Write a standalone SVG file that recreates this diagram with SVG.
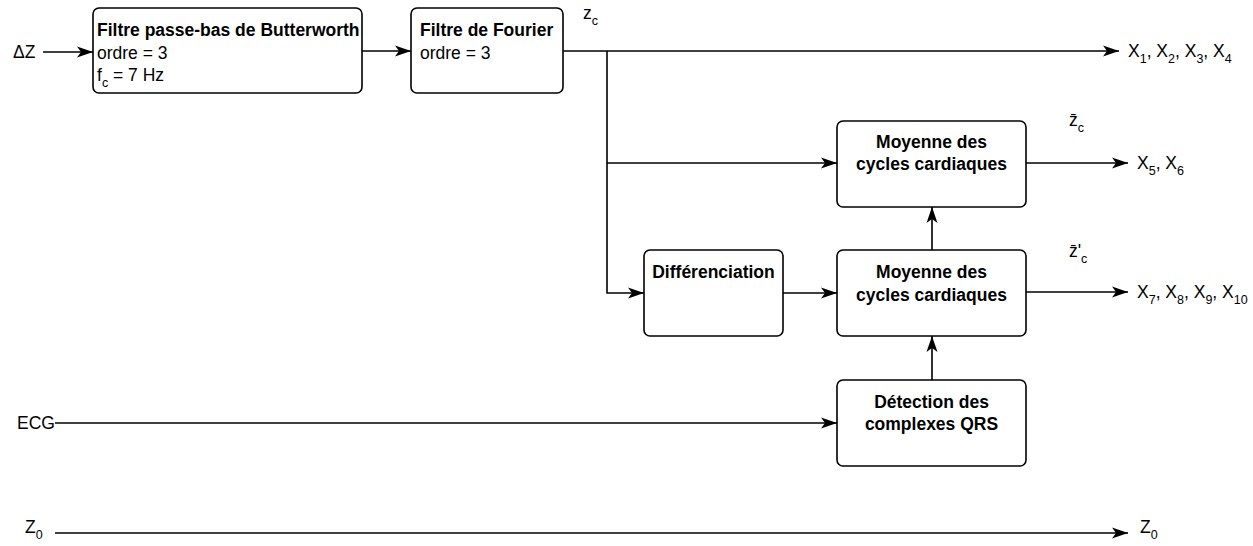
<svg xmlns="http://www.w3.org/2000/svg" width="1253" height="546" viewBox="0 0 1253 546">
<defs>
<style>
text{font-family:"Liberation Sans",Arial,sans-serif;font-size:17.5px;fill:#000}
.b{font-weight:bold}
.m{text-anchor:middle}
.s{font-size:12.5px}
rect.n{fill:#fff;stroke:#000;stroke-width:1.6}
.c path{fill:none;stroke:#000;stroke-width:1.6}
</style>
<marker id="a" viewBox="0 0 16 12" refX="16" refY="6" markerWidth="16" markerHeight="12" markerUnits="userSpaceOnUse" orient="auto">
<path d="M0,0.5 L16,6 L0,11.5 L4,6 Z" fill="#000"/>
</marker>
</defs>
<rect width="1253" height="546" fill="#fff"/>
<g class="c" id="connectors">
<path d="M43,52 L93,52" marker-end="url(#a)"/>
<path d="M362,51 L411,51" marker-end="url(#a)"/>
<path d="M563,51 L1119,51" marker-end="url(#a)"/>
<path d="M607,51 L607,293 L644,293" marker-end="url(#a)"/>
<path d="M607,163 L837,163" marker-end="url(#a)"/>
<path d="M783,293 L837,293" marker-end="url(#a)"/>
<path d="M932,250 L932,207" marker-end="url(#a)"/>
<path d="M932,380 L932,336" marker-end="url(#a)"/>
<path d="M55,423 L837,423" marker-end="url(#a)"/>
<path d="M1026,163 L1128,163" marker-end="url(#a)"/>
<path d="M1026,292 L1128,292" marker-end="url(#a)"/>
<path d="M55,533 L1128,533" marker-end="url(#a)"/>
</g>
<g id="butterworth">
<rect class="n" x="93" y="8" width="269" height="85" rx="6"/>
<text class="b" x="97" y="36">Filtre passe-bas de Butterworth</text>
<text x="97" y="59">ordre = 3</text>
<text x="97" y="81">f<tspan class="s" dy="6">c</tspan><tspan dy="-6"> = 7 Hz</tspan></text>
</g>
<g id="fourier">
<rect class="n" x="411" y="8" width="152" height="85" rx="6"/>
<text class="b" x="420" y="36">Filtre de Fourier</text>
<text x="420" y="59">ordre = 3</text>
</g>
<g id="moyenne1">
<rect class="n" x="837" y="121" width="189" height="86" rx="6"/>
<text class="b m" x="931.5" y="148">Moyenne des</text>
<text class="b m" x="931.5" y="170">cycles cardiaques</text>
</g>
<g id="differenciation">
<rect class="n" x="644" y="250" width="139" height="86" rx="6"/>
<text class="b m" x="713.5" y="278">Différenciation</text>
</g>
<g id="moyenne2">
<rect class="n" x="837" y="250" width="189" height="86" rx="6"/>
<text class="b m" x="931.5" y="278">Moyenne des</text>
<text class="b m" x="931.5" y="301">cycles cardiaques</text>
</g>
<g id="detection">
<rect class="n" x="837" y="380" width="189" height="86" rx="6"/>
<text class="b m" x="931.5" y="408">Détection des</text>
<text class="b m" x="931.5" y="430">complexes QRS</text>
</g>
<g id="labels">
<text x="13" y="58">ΔZ</text>
<text x="17" y="429">ECG</text>
<text x="25" y="533">Z<tspan class="s" dy="6">0</tspan></text>
<text x="1140" y="533">Z<tspan class="s" dy="6">0</tspan></text>
<text x="583" y="19">z<tspan class="s" dy="6">c</tspan></text>
<text x="1069" y="126">z̄<tspan class="s" dy="6">c</tspan></text>
<text x="1069" y="257">z̄'<tspan class="s" dy="6">c</tspan></text>
<text x="1128" y="57">X<tspan class="s" dy="6">1</tspan><tspan dy="-6">, X</tspan><tspan class="s" dy="6">2</tspan><tspan dy="-6">, X</tspan><tspan class="s" dy="6">3</tspan><tspan dy="-6">, X</tspan><tspan class="s" dy="6">4</tspan></text>
<text x="1137" y="169">X<tspan class="s" dy="6">5</tspan><tspan dy="-6">, X</tspan><tspan class="s" dy="6">6</tspan></text>
<text x="1137" y="298">X<tspan class="s" dy="6">7</tspan><tspan dy="-6">, X</tspan><tspan class="s" dy="6">8</tspan><tspan dy="-6">, X</tspan><tspan class="s" dy="6">9</tspan><tspan dy="-6">, X</tspan><tspan class="s" dy="6">10</tspan></text>
</g>
</svg>
